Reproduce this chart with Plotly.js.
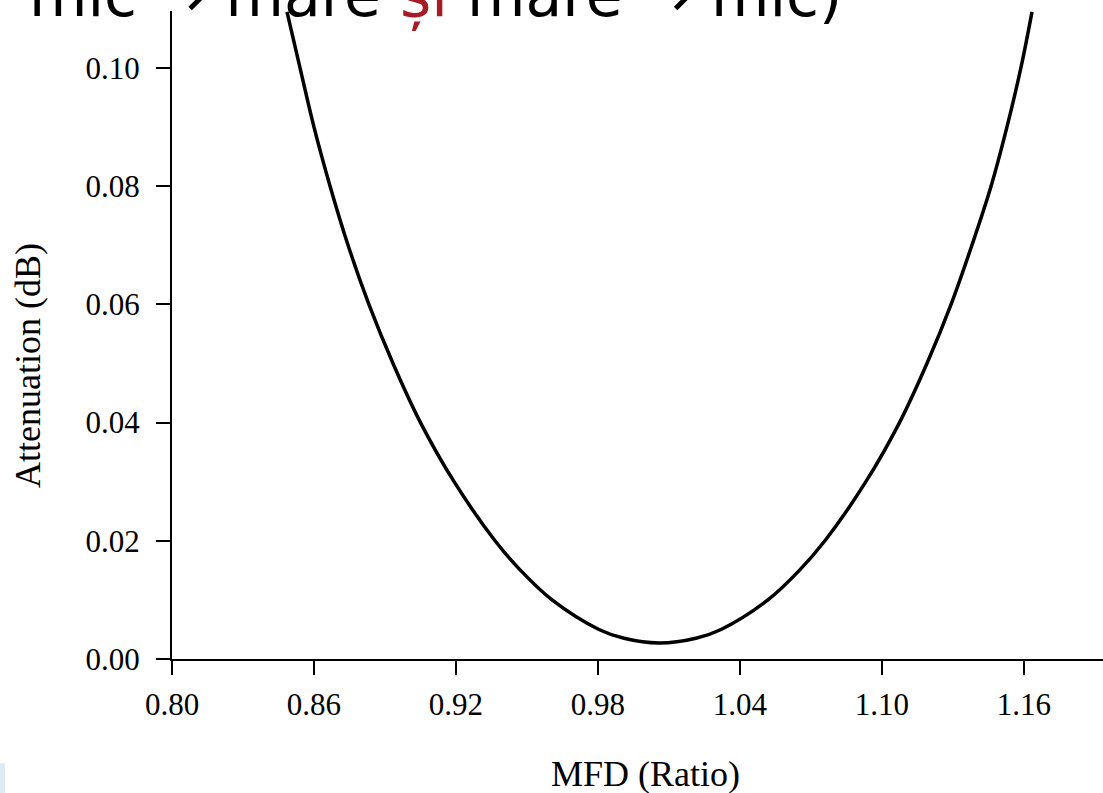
<!DOCTYPE html>
<html>
<head>
<meta charset="utf-8">
<script src="https://cdn.plot.ly/plotly-3.0.1.min.js"></script>
<style>
  html, body { margin: 0; padding: 0; background: #ffffff; }
  #chart { width: 1103px; height: 793px; }
</style>
</head>
<body>
<div id="chart"></div>
<script>
// MFD ratio (x) and attenuation in dB (y)
const mfd = [0.8486, 0.8541, 0.8600, 0.8668, 0.8744, 0.8832, 0.8934, 0.9050, 0.9192, 0.9365,
             0.9473, 0.9606, 0.9804, 0.9910, 1.0058, 1.0214, 1.0320, 1.0518, 1.0651, 1.0759,
             1.0932, 1.1074, 1.1190, 1.1292, 1.1380, 1.1461, 1.1528, 1.1587, 1.1634];
const attenuation = [0.1095, 0.1000, 0.0900, 0.0800, 0.0700, 0.0600, 0.0500, 0.0400, 0.0300, 0.0200,
                     0.0150, 0.0100, 0.0050, 0.0035, 0.0027, 0.0035, 0.0050, 0.0100, 0.0150, 0.0200,
                     0.0300, 0.0400, 0.0500, 0.0600, 0.0700, 0.0800, 0.0900, 0.1000, 0.1095];

const xTicks = [0.80, 0.86, 0.92, 0.98, 1.04, 1.10, 1.16];
const yTicks = [0.00, 0.02, 0.04, 0.06, 0.08, 0.10];

const xTitle = 'MFD (Ratio)';
const yTitle = 'Attenuation (dB)';
const headerText = 'mic → mare <span style="color:#a51c24">și</span> mare → mic)';

const serif = '"Liberation Serif", "DejaVu Serif", serif';

const trace = {
  x: mfd,
  y: attenuation,
  type: 'scatter',
  mode: 'lines',
  line: { color: '#000000', width: 3.5, shape: 'spline', smoothing: 1 },
  hoverinfo: 'skip',
  showlegend: false
};

const layout = {
  width: 1103,
  height: 793,
  margin: { l: 172, r: 0, t: 11, b: 134, pad: 0 },
  paper_bgcolor: '#ffffff',
  plot_bgcolor: '#ffffff',
  showlegend: false,
  xaxis: {
    range: [0.80, 1.1934],
    tickvals: xTicks,
    ticktext: xTicks.map(v => v.toFixed(2)),
    ticks: 'outside',
    ticklen: 14,
    tickwidth: 2,
    tickcolor: '#000000',
    showline: true,
    linecolor: '#000000',
    linewidth: 2,
    showgrid: false,
    zeroline: false,
    ticklabelstandoff: 3,
    tickfont: { family: serif, size: 31, color: '#000000' },
    fixedrange: true
  },
  yaxis: {
    range: [0, 0.10964],
    tickvals: yTicks,
    ticktext: yTicks.map(v => v.toFixed(2)),
    ticks: 'outside',
    ticklen: 14,
    tickwidth: 2,
    tickcolor: '#000000',
    showline: true,
    linecolor: '#000000',
    linewidth: 2,
    showgrid: false,
    zeroline: false,
    ticklabelstandoff: 10,
    tickfont: { family: serif, size: 31, color: '#000000' },
    fixedrange: true
  },
  annotations: [
    {
      text: xTitle,
      xref: 'paper', yref: 'paper',
      x: (645 - 172) / 931, y: 0,
      xanchor: 'center', yanchor: 'top',
      yshift: -93,
      showarrow: false,
      font: { family: serif, size: 36, color: '#000000' }
    },
    {
      text: yTitle,
      xref: 'paper', yref: 'paper',
      x: (28 - 172) / 931, y: (659 - 366) / 648,
      xanchor: 'center', yanchor: 'middle',
      textangle: -90,
      showarrow: false,
      font: { family: serif, size: 36, color: '#000000' }
    },
    {
      text: headerText,
      xref: 'paper', yref: 'paper',
      x: (27 - 172) / 931, y: 1,
      xanchor: 'left', yanchor: 'bottom',
      yshift: -22,
      showarrow: false,
      font: { family: '"DejaVu Sans", sans-serif', size: 60, color: '#000000' }
    }
  ],
  shapes: [
    {
      type: 'rect',
      xref: 'paper', yref: 'paper',
      x0: (0 - 172) / 931, x1: (5 - 172) / 931,
      y0: (659 - 793) / 648, y1: (659 - 763) / 648,
      fillcolor: '#dcebf6',
      line: { width: 0 },
      layer: 'below'
    }
  ]
};

Plotly.newPlot('chart', [trace], layout, { staticPlot: true, displayModeBar: false });
</script>
</body>
</html>
